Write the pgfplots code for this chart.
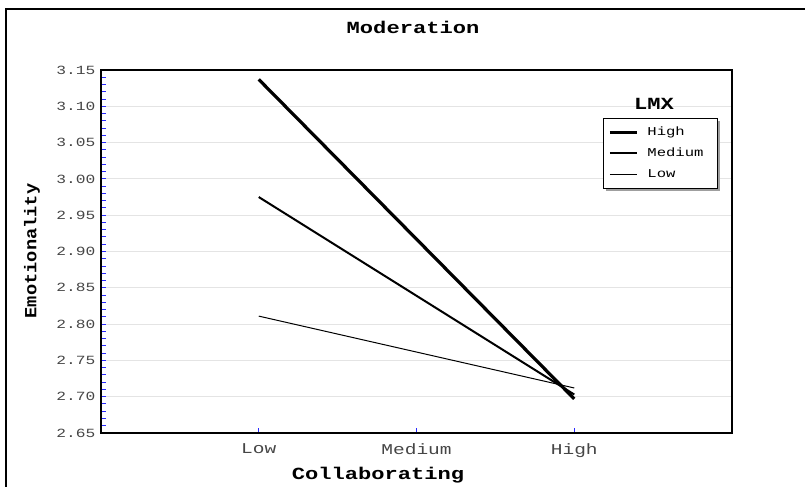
\documentclass[border=0pt]{standalone}
\usepackage{fontspec}
\usepackage{pgfplots}
\pgfplotsset{compat=1.18}
\setmainfont{Liberation Mono}
\newfontfamily\wmono[FakeStretch=1.3]{Liberation Mono}
\newfontfamily\ymono[FakeStretch=1.1]{Liberation Mono}
\definecolor{tickblue}{RGB}{40,40,255}
\definecolor{gridgray}{RGB}{228,228,228}
\definecolor{labgray}{RGB}{70,70,70}
\begin{document}
\begin{tikzpicture}[x=1bp,y=1bp]
\useasboundingbox (0,0) rectangle (805,487);
\draw[line width=1.5bp] (6,-5) -- (6,478) -- (815,478);
\begin{axis}[
  at={(101bp,54bp)}, anchor=south west,
  scale only axis, width=631bp, height=363bp,
  xmin=0, xmax=4, ymin=2.65, ymax=3.15,
  xtick={1,2,3}, xticklabels={Low,Medium,High},
  ytick={2.65,2.70,...,3.151},
  minor y tick num=4,
  xtick pos=bottom, ytick pos=left,
  tick align=inside,
  major tick length=5bp, minor tick length=5bp,
  every tick/.style={tickblue, line width=1bp},
  minor tick style={tickblue, line width=1bp},
  axis line style={line width=2.5bp},
  ymajorgrids, grid style={gridgray, line width=1bp},
  /pgf/number format/assume math mode=true,
  /pgf/number format/.cd, fixed, precision=2, fixed zerofill, /pgfplots/.cd,
  yticklabel style={font=\wmono\fontsize{12.5bp}{12.5bp}\selectfont, text=labgray, xshift=-2bp},
  xticklabel style={font=\wmono\fontsize{15bp}{15bp}\selectfont, text=labgray, yshift=-7bp},
  title={Moderation},
  title style={font=\wmono\bfseries\fontsize{17bp}{17bp}\selectfont, at={(rel axis cs:0.4945,1.1185)}, anchor=center, yshift=-6pt},
  xlabel={Collaborating},
  xlabel style={font=\wmono\bfseries\fontsize{17bp}{17bp}\selectfont, at={(rel axis cs:0.439,-0.1157)}, anchor=center},
  ylabel={Emotionality},
  ylabel style={font=\ymono\bfseries\fontsize{17bp}{17bp}\selectfont, at={(rel axis cs:-0.1094,0.5014)}, anchor=center},
  legend style={at={(rel axis cs:0.8035,0.8581)}, anchor=north west,
    draw=none, fill=none,
    font=\wmono\fontsize{12bp}{12bp}\selectfont,
    inner sep=0pt,
    nodes={inner ysep=5bp, inner xsep=0pt, text height=9bp, text depth=2bp},
    /tikz/every odd column/.append style={column sep=9bp},
    row sep=0pt},
  legend cell align=left,
  legend image code/.code={\draw[#1] (0bp,0bp) -- (27bp,0bp);},
]
\fill[gray!75] (rel axis cs:0.8003,0.8595) rectangle (rel axis cs:0.9810,0.6667);
\draw[fill=white, line width=0.8bp] (rel axis cs:0.7956,0.8678) rectangle (rel axis cs:0.9762,0.6749);
\addplot[black, line width=3.2bp] coordinates {(1,3.137) (3,2.697)};
\addplot[black, line width=2bp] coordinates {(1,2.975) (3,2.703)};
\addplot[black, line width=1bp] coordinates {(1,2.811) (3,2.712)};
\legend{High,Medium,Low}
\node[font=\wmono\bfseries\fontsize{17bp}{17bp}\selectfont] at (rel axis cs:0.8764,0.9063) {LMX};
\end{axis}
\end{tikzpicture}
\end{document}
